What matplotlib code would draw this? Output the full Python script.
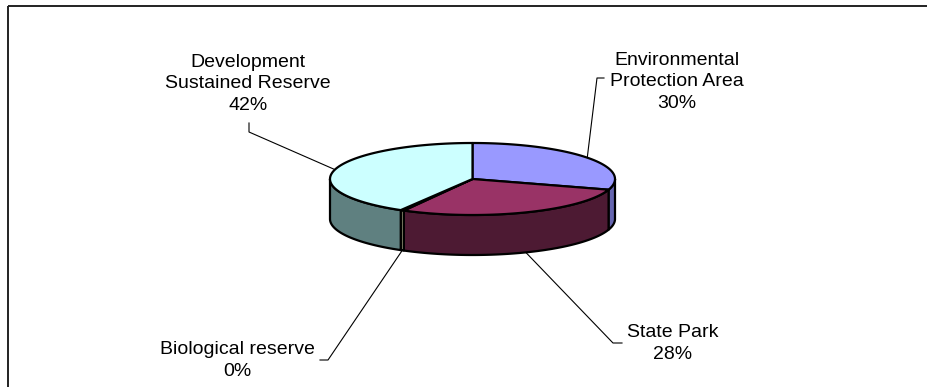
import numpy as np
import matplotlib
matplotlib.use('Agg')
import matplotlib.pyplot as plt
from matplotlib.patches import Polygon

# ---- data ----
categories = ['Environmental\nProtection Area', 'State Park',
              'Biological reserve', 'Development\nSustained Reserve']
values = [29.8, 28.2, 0.4, 41.6]
top_colors = ['#9999FF', '#993366', '#FFFFCC', '#CCFFFF']
side_colors = ['#6666B0', '#4D1A33', '#99997A', '#5F8080']

# label layout (pixel coords): text centre, elbow points
label_pos = [(677, 82), (673, 343.5), (237, 360.5), (248, 84)]
elbows = [[(604, 78), (597, 78)],
          [(622, 343), (613, 343)],
          [(320, 360), (328, 360)],
          [(249, 123), (249, 132)]]

W, H = 928, 387
fig = plt.figure(figsize=(W / 100, H / 100), dpi=100)
ax = fig.add_axes([0, 0, 1, 1])
ax.set_xlim(0, W)
ax.set_ylim(H, 0)
ax.axis('off')

plt.rcParams['font.family'] = ['Liberation Sans', 'DejaVu Sans']

# frame
ax.plot([8, W + 5], [6, 6], color='#222222', lw=1.4, solid_capstyle='butt', zorder=0)
ax.plot([8, 8], [6, H + 5], color='#222222', lw=1.4, solid_capstyle='butt', zorder=0)

cx, cy, a, b, depth = 472.5, 179.0, 142.5, 36.0, 40.0

fr = np.array(values) / sum(values)
starts = 90 - 360 * np.concatenate([[0], np.cumsum(fr)[:-1]])
ends = starts - 360 * fr


def rim(t_deg, dy=0.0):
    t = np.radians(t_deg)
    return cx + a * np.cos(t), cy - b * np.sin(t) + dy


# side walls (front half: angles between -180 and 0)
for s, e, col in zip(starts, ends, side_colors):
    hi = min(s, 0.0)
    lo = max(e, -180.0)
    if hi <= lo:
        continue
    t = np.linspace(hi, lo, 120)
    xt, yt = rim(t)
    xb, yb = rim(t[::-1], depth)
    pts = np.column_stack([np.concatenate([xt, xb]), np.concatenate([yt, yb])])
    ax.add_patch(Polygon(pts, closed=True, facecolor=col, edgecolor='black',
                         lw=1.6, joinstyle='round', zorder=1))

# top wedges
for s, e, col in zip(starts, ends, top_colors):
    t = np.linspace(s, e, 200)
    xt, yt = rim(t)
    pts = np.column_stack([np.concatenate([[cx], xt]), np.concatenate([[cy], yt])])
    ax.add_patch(Polygon(pts, closed=True, facecolor=col, edgecolor='black',
                         lw=1.6, joinstyle='round', zorder=2))

# labels and leader lines
for cat, v, s, e, (tx, ty), elb in zip(categories, values, starts, ends, label_pos, elbows):
    mid = (s + e) / 2
    ax_, ay_ = rim(mid)
    if np.sin(np.radians(mid)) < -0.5:
        ay_ += depth
    xs = [elb[0][0], elb[1][0], ax_]
    ys = [elb[0][1], elb[1][1], ay_]
    ax.plot(xs, ys, color='black', lw=0.8, zorder=0.5)
    ax.text(tx, ty, f"{cat}\n{round(v):.0f}%", ha='center', va='center',
            fontsize=14, linespacing=1.35, color='black', zorder=3)

fig.savefig('out.png', dpi=100)
